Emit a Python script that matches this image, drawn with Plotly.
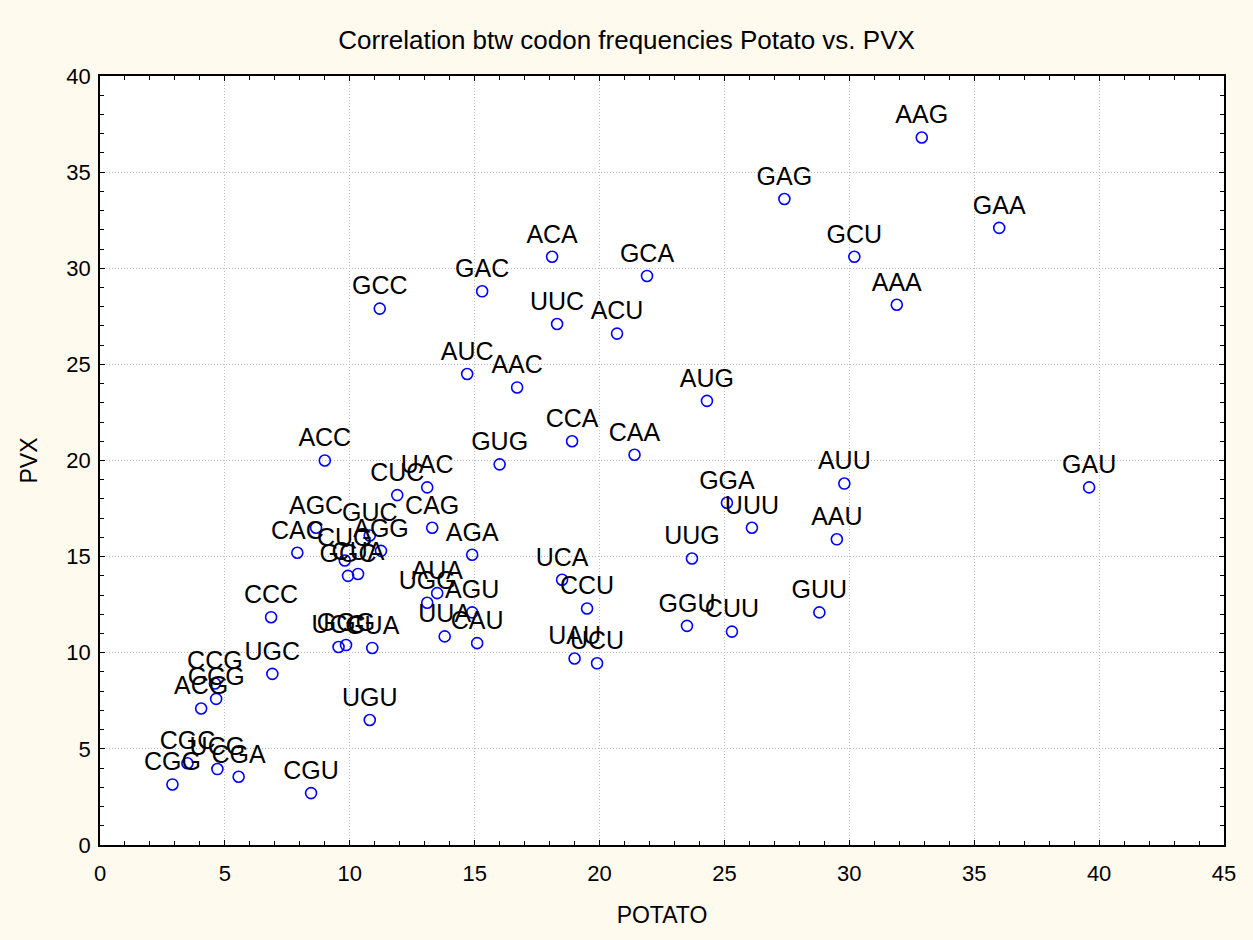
import plotly.graph_objects as go

codons = ["AAG", "GAG", "GAA", "GCU", "AAA", "ACA", "GCA", "GAC", "GCC", "UUC",
          "ACU", "AUC", "AAC", "AUG", "CCA", "CAA", "GUG", "ACC", "GAU", "AUU",
          "UAC", "CUC", "GGA", "UUU", "AAU", "CAG", "AGC", "GUC", "AGG", "CAC",
          "CUG", "GGC", "CUA", "AGA", "UCA", "UUG", "AUA", "UGG", "AGU", "CCU",
          "GGU", "CUU", "GUU", "CCC", "UUA", "CAU", "UAU", "UCU", "UCC", "GGG",
          "GUA", "UGC", "CCG", "GCG", "ACG", "UGU", "CGC", "CGG", "UCG", "CGA",
          "CGU"]

potato = [32.9, 27.4, 36.0, 30.2, 31.9, 18.1, 21.9, 15.3, 11.2, 18.3,
          20.7, 14.7, 16.7, 24.3, 18.9, 21.4, 16.0, 9.0, 39.6, 29.8,
          13.1, 11.9, 25.1, 26.1, 29.5, 13.3, 8.65, 10.8, 11.25, 7.9,
          9.8, 9.93, 10.33, 14.9, 18.5, 23.7, 13.5, 13.1, 14.9, 19.5,
          23.5, 25.3, 28.8, 6.85, 13.8, 15.1, 19.0, 19.9, 9.55, 9.85,
          10.9, 6.9, 4.6, 4.65, 4.05, 10.8, 3.5, 2.9, 4.7, 5.55,
          8.45]

pvx = [36.8, 33.6, 32.1, 30.6, 28.1, 30.6, 29.6, 28.8, 27.9, 27.1,
       26.6, 24.5, 23.8, 23.1, 21.0, 20.3, 19.8, 20.0, 18.6, 18.8,
       18.6, 18.2, 17.8, 16.5, 15.9, 16.5, 16.5, 16.1, 15.3, 15.2,
       14.8, 14.0, 14.1, 15.1, 13.8, 14.9, 13.1, 12.6, 12.1, 12.3,
       11.4, 11.1, 12.1, 11.85, 10.85, 10.5, 9.7, 9.45, 10.3, 10.4,
       10.25, 8.9, 8.4, 7.6, 7.1, 6.5, 4.25, 3.15, 3.95, 3.55,
       2.7]

title_text = "Correlation btw codon frequencies Potato vs. PVX"
x_title = "POTATO"
y_title = "PVX"

FONT = "Liberation Sans, Arial, sans-serif"

fig = go.Figure()
fig.add_trace(go.Scatter(
    x=potato, y=pvx, text=codons,
    mode="markers+text",
    textposition="top center",
    textfont=dict(family=FONT, size=25, color="black"),
    marker=dict(symbol="circle-open", size=11, color="#0000FF",
                line=dict(width=1.6, color="#0000FF")),
    cliponaxis=False,
    showlegend=False,
))

axis_common = dict(
    showline=True, linecolor="black", linewidth=1.5, mirror="allticks",
    ticks="inside", ticklen=5, tickcolor="black", tickwidth=1,
    showgrid=True, gridcolor="#BDBDBD", griddash="1px,2px", gridwidth=1,
    zeroline=False, automargin=False,
    tickfont=dict(family=FONT, size=22, color="black"),
)

fig.update_layout(
    width=1253, height=940,
    paper_bgcolor="#FEFAEE",
    plot_bgcolor="white",
    margin=dict(l=100, r=29, t=76, b=95),
    title=dict(text=title_text, x=0.5, xanchor="center", y=0.958, yanchor="middle",
               font=dict(family=FONT, size=26, color="black")),
    xaxis=dict(range=[0, 45], dtick=5, tick0=0, ticklabelstandoff=8,
               title=dict(text=x_title, font=dict(family=FONT, size=23, color="black"), standoff=22),
               minor=dict(dtick=1, ticks="inside", ticklen=4, tickcolor="black", showgrid=False),
               **axis_common),
    yaxis=dict(range=[0, 40], dtick=5, tick0=0, ticklabelstandoff=3,
               title=dict(text=y_title, font=dict(family=FONT, size=23, color="black"), standoff=22),
               minor=dict(dtick=1, ticks="inside", ticklen=4, tickcolor="black", showgrid=False),
               **axis_common),
)

fig.write_html("out.html",
               config={"displayModeBar": False},
               post_script="document.body.style.margin='0';document.body.style.background='#FEFAEE';")
